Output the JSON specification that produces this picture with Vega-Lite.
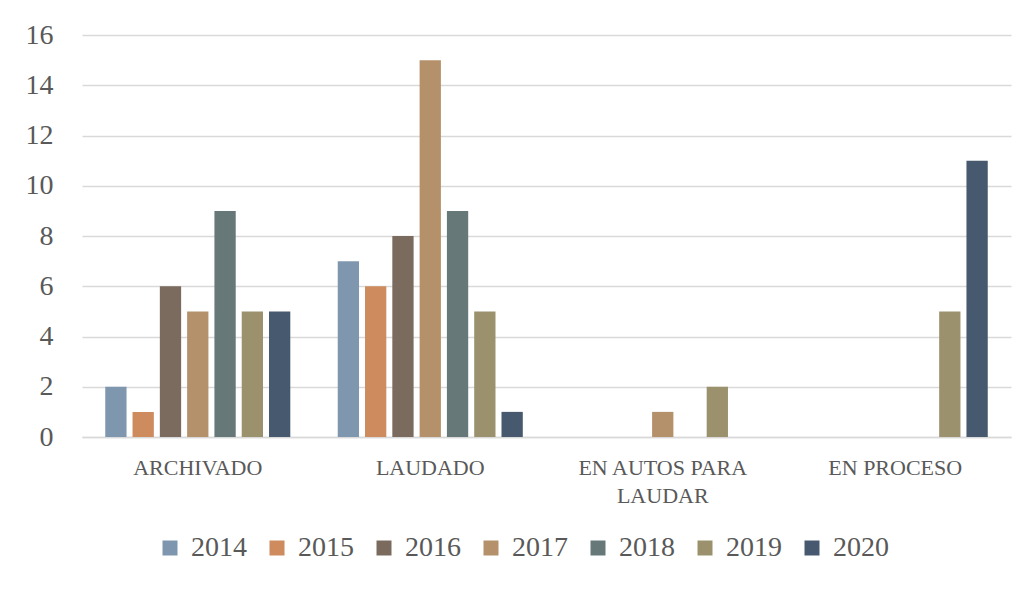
{
  "$schema": "https://vega.github.io/schema/vega-lite/v6.json",
  "width": 929,
  "height": 402,
  "autosize": {"type": "none"},
  "padding": {"left": 82, "top": 35, "right": 18, "bottom": 153},
  "background": "white",
  "config": {
    "font": "Liberation Serif",
    "view": {"stroke": null}
  },
  "data": {
    "values": [
      {"cat": "ARCHIVADO", "year": "2014", "value": 2},
      {"cat": "ARCHIVADO", "year": "2015", "value": 1},
      {"cat": "ARCHIVADO", "year": "2016", "value": 6},
      {"cat": "ARCHIVADO", "year": "2017", "value": 5},
      {"cat": "ARCHIVADO", "year": "2018", "value": 9},
      {"cat": "ARCHIVADO", "year": "2019", "value": 5},
      {"cat": "ARCHIVADO", "year": "2020", "value": 5},
      {"cat": "LAUDADO", "year": "2014", "value": 7},
      {"cat": "LAUDADO", "year": "2015", "value": 6},
      {"cat": "LAUDADO", "year": "2016", "value": 8},
      {"cat": "LAUDADO", "year": "2017", "value": 15},
      {"cat": "LAUDADO", "year": "2018", "value": 9},
      {"cat": "LAUDADO", "year": "2019", "value": 5},
      {"cat": "LAUDADO", "year": "2020", "value": 1},
      {"cat": "EN AUTOS PARA LAUDAR", "year": "2014", "value": 0},
      {"cat": "EN AUTOS PARA LAUDAR", "year": "2015", "value": 0},
      {"cat": "EN AUTOS PARA LAUDAR", "year": "2016", "value": 0},
      {"cat": "EN AUTOS PARA LAUDAR", "year": "2017", "value": 1},
      {"cat": "EN AUTOS PARA LAUDAR", "year": "2018", "value": 0},
      {"cat": "EN AUTOS PARA LAUDAR", "year": "2019", "value": 2},
      {"cat": "EN AUTOS PARA LAUDAR", "year": "2020", "value": 0},
      {"cat": "EN PROCESO", "year": "2014", "value": 0},
      {"cat": "EN PROCESO", "year": "2015", "value": 0},
      {"cat": "EN PROCESO", "year": "2016", "value": 0},
      {"cat": "EN PROCESO", "year": "2017", "value": 0},
      {"cat": "EN PROCESO", "year": "2018", "value": 0},
      {"cat": "EN PROCESO", "year": "2019", "value": 5},
      {"cat": "EN PROCESO", "year": "2020", "value": 11}
    ]
  },
  "mark": {"type": "bar"},
  "encoding": {
    "x": {
      "field": "cat",
      "type": "nominal",
      "sort": null,
      "title": null,
      "scale": {"paddingInner": 0.204, "paddingOuter": 0.1},
      "axis": {
        "labelAngle": 0,
        "labelFontSize": 22,
        "labelColor": "#595959",
        "labelPadding": 20,
        "labelLineHeight": 28,
        "labelExpr": "datum.label == 'EN AUTOS PARA LAUDAR' ? ['EN AUTOS PARA', 'LAUDAR'] : datum.label",
        "ticks": false,
        "domainColor": "#d9d9d9",
        "domainWidth": 1.5
      }
    },
    "xOffset": {
      "field": "year",
      "type": "nominal",
      "scale": {"paddingInner": 0.22, "paddingOuter": 0}
    },
    "y": {
      "field": "value",
      "type": "quantitative",
      "title": null,
      "scale": {"domain": [0, 16], "nice": false},
      "axis": {
        "values": [0, 2, 4, 6, 8, 10, 12, 14, 16],
        "labelFontSize": 28,
        "labelColor": "#595959",
        "labelPadding": 29,
        "ticks": false,
        "domain": false,
        "gridColor": "#d9d9d9",
        "gridWidth": 1.5
      }
    },
    "color": {
      "field": "year",
      "type": "nominal",
      "title": null,
      "scale": {
        "domain": ["2014", "2015", "2016", "2017", "2018", "2019", "2020"],
        "range": ["#7F97AE", "#CD8B5E", "#7B6A5E", "#B4916A", "#677878", "#9C916D", "#46596E"]
      },
      "legend": {
        "orient": "none",
        "legendX": 74,
        "legendY": 499,
        "direction": "horizontal",
        "symbolType": "square",
        "symbolSize": 225,
        "symbolStrokeWidth": 0,
        "labelFontSize": 28,
        "labelColor": "#595959",
        "columnPadding": 16,
        "labelOffset": 7
      }
    }
  }
}
